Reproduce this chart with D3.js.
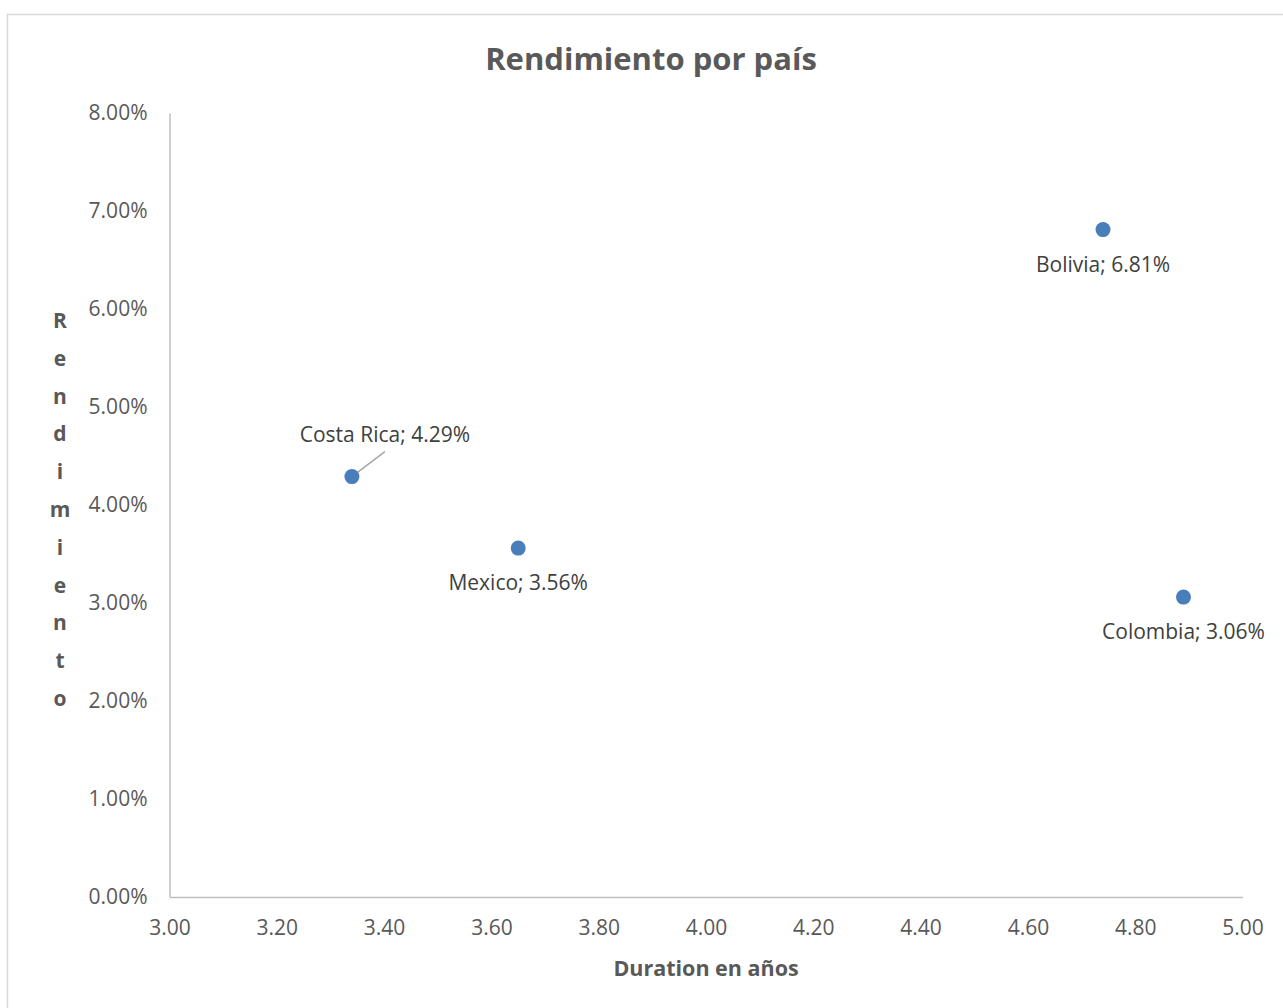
<!DOCTYPE html>
<html>
<head>
<meta charset="utf-8">
<script src="https://cdn.jsdelivr.net/npm/d3@7"></script>
<style>
  body { margin: 0; background: #fff; }
  svg, svg text { font-family: "Open Sans", "Noto Sans", sans-serif; }
</style>
</head>
<body>
<div class="canvas"></div>
<script>
// Data
const countries = ['Costa Rica', 'Mexico', 'Bolivia', 'Colombia'];
const duration = [3.34, 3.65, 4.74, 4.89];
const rendimiento = [0.0429, 0.0356, 0.0681, 0.0306];
const xTicks = [3.0, 3.2, 3.4, 3.6, 3.8, 4.0, 4.2, 4.4, 4.6, 4.8, 5.0];
const yTicks = [0, 0.01, 0.02, 0.03, 0.04, 0.05, 0.06, 0.07, 0.08];

// Graph set up
const svgWidth = 1283;
const svgHeight = 1008;
const margin = {top: 113, right: 40.5, bottom: 111, left: 169.5};
const graphWidth = svgWidth - margin.left - margin.right;
const graphHeight = svgHeight - margin.top - margin.bottom;

const svg = d3.select('.canvas')
    .append('svg')
    .attr('width', svgWidth)
    .attr('height', svgHeight);

// chart border (cropped at right and bottom)
svg.append('rect')
    .attr('x', 7.5)
    .attr('y', 14.5)
    .attr('width', 1300)
    .attr('height', 1020)
    .attr('fill', '#fff')
    .attr('stroke', '#d9d9d9')
    .attr('stroke-width', 1.5);

const graph = svg.append('g')
    .attr('transform', `translate(${margin.left},${margin.top})`);

// Scales
const x = d3.scaleLinear().domain([3, 5]).range([0, graphWidth]);
const y = d3.scaleLinear().domain([0, 0.08]).range([graphHeight, 0]);

// Axes
const xAxis = d3.axisBottom(x)
    .tickValues(xTicks)
    .tickSize(0)
    .tickFormat(d3.format('.2f'));

const yAxis = d3.axisLeft(y)
    .tickValues(yTicks)
    .tickSize(0)
    .tickFormat(d3.format('.2%'));

const xAxisGroup = graph.append('g')
    .attr('transform', `translate(0,${graphHeight})`)
    .call(xAxis);

const yAxisGroup = graph.append('g')
    .call(yAxis);

[xAxisGroup, yAxisGroup].forEach(g => {
    g.attr('font-family', null).attr('font-size', null);
    g.select('.domain')
        .attr('stroke', '#bfbfbf')
        .attr('stroke-width', 1.5);
    g.selectAll('text')
        .attr('fill', '#595959')
        .style('font-size', '21px');
});
xAxisGroup.selectAll('text').attr('dy', '0.35em').attr('y', 31);
yAxisGroup.selectAll('text').attr('x', -22);

// Title
svg.append('text')
    .attr('x', 651)
    .attr('y', 70)
    .attr('text-anchor', 'middle')
    .attr('fill', '#595959')
    .style('font-size', '31px')
    .style('font-weight', 'bold')
    .text('Rendimiento por país');

// X axis title
svg.append('text')
    .attr('x', 706)
    .attr('y', 976)
    .attr('text-anchor', 'middle')
    .attr('fill', '#595959')
    .style('font-size', '21.5px')
    .style('font-weight', 'bold')
    .text('Duration en años');

// Y axis title, stacked letters
const yTitle = svg.append('text')
    .attr('text-anchor', 'middle')
    .attr('fill', '#595959')
    .style('font-size', '21px')
    .style('font-weight', 'bold');
yTitle.selectAll('tspan')
    .data('Rendimiento'.split(''))
    .enter()
    .append('tspan')
    .attr('x', 60)
    .attr('y', (d, i) => 328 + i * 37.8)
    .text(d => d);

// Points
const points = countries.map((c, i) => ({name: c, dur: duration[i], ren: rendimiento[i]}));

// Leader line for Costa Rica label
const cr = points[0];
graph.append('line')
    .attr('x1', x(cr.dur))
    .attr('y1', y(cr.ren))
    .attr('x2', x(cr.dur) + 33)
    .attr('y2', y(cr.ren) - 25)
    .attr('stroke', '#a6a6a6')
    .attr('stroke-width', 1.5);

graph.selectAll('circle')
    .data(points)
    .enter()
    .append('circle')
    .attr('r', 7.5)
    .attr('cx', d => x(d.dur))
    .attr('cy', d => y(d.ren))
    .attr('fill', '#4a7ebb');

// Data labels
const fmt = d3.format('.2%');
graph.selectAll('.label')
    .data(points)
    .enter()
    .append('text')
    .attr('class', 'label')
    .attr('x', (d, i) => x(d.dur) + (i === 0 ? 33 : 0))
    .attr('y', (d, i) => y(d.ren) + (i === 0 ? -42 : 35))
    .attr('dy', '0.35em')
    .attr('text-anchor', 'middle')
    .attr('fill', '#404040')
    .style('font-size', '21px')
    .text(d => `${d.name}; ${fmt(d.ren)}`);
</script>
</body>
</html>
